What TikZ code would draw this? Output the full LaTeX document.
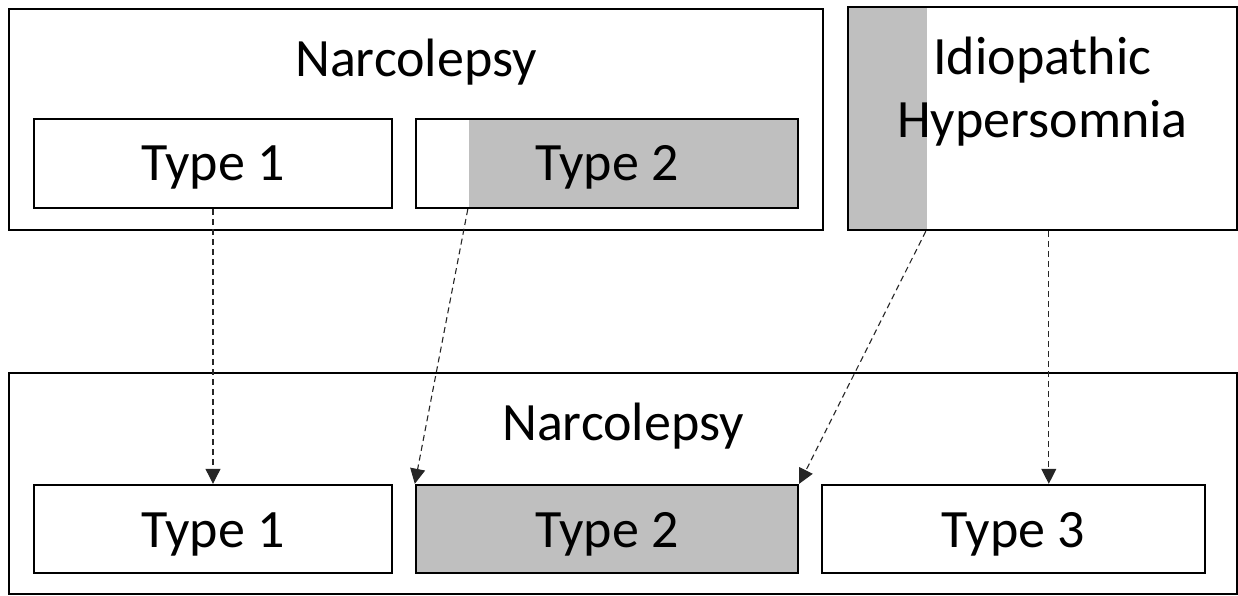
\documentclass[tikz,border=0pt]{standalone}
\usepackage{fontspec}
\setmainfont{Carlito}
\usetikzlibrary{arrows.meta,calc}
\definecolor{boxgray}{RGB}{191,191,191}
\begin{document}
\begin{tikzpicture}[x=1pt,y=-1pt,
  box/.style={draw=black, line width=2.4pt, inner sep=0pt, minimum width=#1},
  lbl/.style={font=\fontsize{54}{64}\selectfont, inner sep=0pt, anchor=base},
  link/.style={draw=black!85, line width=1.1pt, dash pattern=on 6pt off 4pt, -{Triangle[length=15pt,width=15pt]}}]
\useasboundingbox (0,0) rectangle (1238,596);
% top row
\node[box=814, minimum height=221] (narcA) at (416,119.5) {};
\node[lbl] (narcAtxt) at (416,77) {Narcolepsy};
\node[box=358, minimum height=89] (t1A) at (213,163.5) {};
\node[lbl] at (213,181) {Type 1};
\fill[boxgray] (469,119) rectangle (798,208);
\node[box=382, minimum height=89] (t2A) at (607,163.5) {};
\node[lbl] at (607,181) {Type 2};
\fill[boxgray] (848,7) rectangle (927,230);
\node[box=389, minimum height=223] (ih) at (1042.5,118.5) {};
\node[lbl] at (1042.5,75) {Idiopathic};
\node[lbl] at (1042.5,138) {Hypersomnia};
% bottom row
\node[box=1228, minimum height=221] (narcB) at (623,483.5) {};
\node[lbl] at (623,440) {Narcolepsy};
\node[box=358, minimum height=88, fill=white] (t1B) at (213,529) {};
\node[lbl] at (213,547) {Type 1};
\node[box=382, minimum height=88, fill=boxgray] (t2B) at (607,529) {};
\node[lbl] at (607,547) {Type 2};
\node[box=383, minimum height=88] (t3B) at (1013.5,529) {};
\node[lbl] at (1013.5,547) {Type 3};
% connector anchors
\coordinate (s2) at ($(t2A.south west)+(53,0)$);
\coordinate (s3) at ($(ih.south west)+(79,0)$);
\coordinate (s4) at ($(ih.south west)+(202,0)$);
\coordinate (e4) at ($(t3B.north west)+(228,0)$);
\draw[link] (t1A.south) -- (t1B.north);
\draw[link] (s2) -- (t2B.north west);
\draw[link] (s3) -- (t2B.north east);
\draw[link] (s4) -- (e4);
\end{tikzpicture}
\end{document}
